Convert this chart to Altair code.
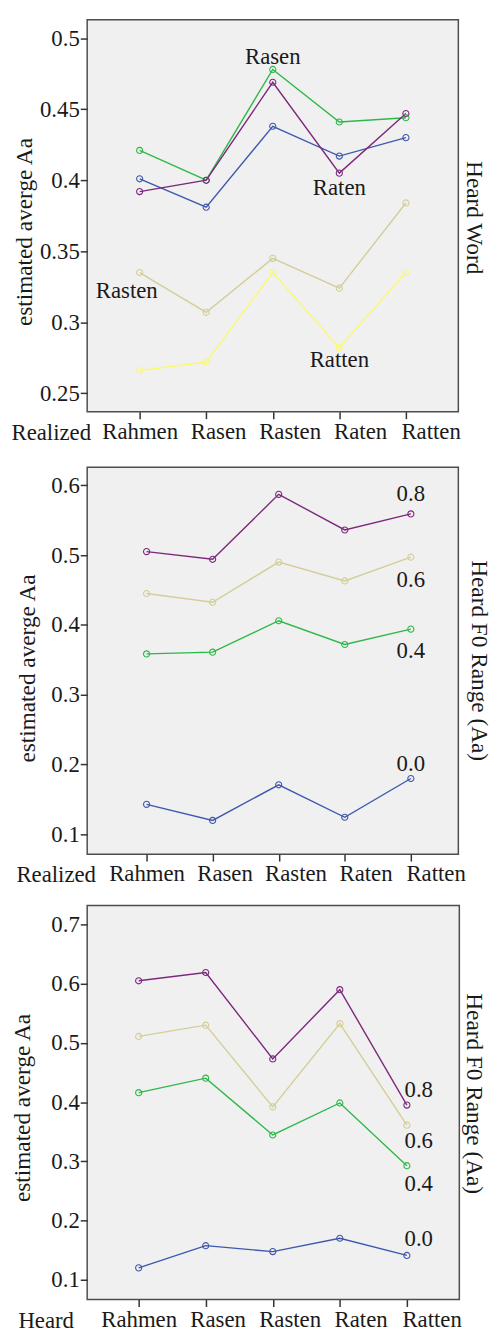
import altair as alt
import pandas as pd

# ---------------- data ----------------
categories = ["Rahmen", "Rasen", "Rasten", "Raten", "Ratten"]

# Panel 1: series = heard word, x = realized word
p1_series = ["Rahmen", "Rasen", "Rasten", "Raten", "Ratten"]
p1_rahmen = [0.401, 0.381, 0.438, 0.417, 0.430]
p1_rasen = [0.421, 0.400, 0.478, 0.441, 0.444]
p1_rasten = [0.335, 0.307, 0.345, 0.324, 0.384]
p1_raten = [0.392, 0.400, 0.469, 0.405, 0.447]
p1_ratten = [0.266, 0.272, 0.335, 0.282, 0.335]
p1_ticks = [0.25, 0.3, 0.35, 0.4, 0.45, 0.5]
p1_label_text = ["Rasen", "Raten", "Ratten"]
p1_label_cat = ["Rasten", "Raten", "Raten"]
p1_label_val = [0.487, 0.3947, 0.2737]
p1_label2_text = ["Rasten"]
p1_label2_cat = ["Rahmen"]
p1_label2_val = [0.322]

# Panel 2: series = heard F0 range, x = realized word
f0_series = ["0.0", "0.4", "0.6", "0.8"]
p2_00 = [0.143, 0.120, 0.171, 0.1245, 0.180]
p2_04 = [0.3585, 0.361, 0.406, 0.372, 0.394]
p2_06 = [0.445, 0.4325, 0.490, 0.463, 0.497]
p2_08 = [0.505, 0.494, 0.587, 0.536, 0.559]
p2_ticks = [0.1, 0.2, 0.3, 0.4, 0.5, 0.6]
p2_label_val = [0.2014, 0.362, 0.4646, 0.587]

# Panel 3: series = heard F0 range, x = heard word
p3_00 = [0.120, 0.1575, 0.1475, 0.170, 0.141]
p3_04 = [0.416, 0.4405, 0.3445, 0.3986, 0.2926]
p3_06 = [0.511, 0.530, 0.392, 0.5326, 0.361]
p3_08 = [0.605, 0.619, 0.473, 0.590, 0.395]
p3_ticks = [0.1, 0.2, 0.3, 0.4, 0.5, 0.6, 0.7]
p3_label_val = [0.169, 0.261, 0.335, 0.421]

colors5 = ["#3E58AC", "#2EB848", "#D3CE97", "#7C287D", "#FBF873"]
colors4 = ["#3E58AC", "#2EB848", "#D3CE97", "#7C287D"]

FONT = "Liberation Serif"
FS = 23
TFS = 23.5
TXT = "#1a1a1a"

# horizontal drift of each category label
label_shift = [0, 12, 17, 21, 25]


def long_df(series_names, series_values):
    rows = []
    for name, vals in zip(series_names, series_values):
        for c, v in zip(categories, vals):
            rows.append({"cat": c, "value": v, "series": name})
    return pd.DataFrame(rows)


label_offset = {
    "condition": [
        {"test": f"datum.value === '{c}'", "value": s}
        for c, s in zip(categories, label_shift)
    ],
    "value": 0,
}


def panel(df, series_names, colors, domain, ticks, fmt, xrange, ytitle_x, ytitle_y,
          xtitle, xtitle_x, width, height, labels, right_title, rt_offset, rt_dx):
    xenc = alt.X(
        "cat:N", sort=categories,
        scale=alt.Scale(type="point", range=xrange, padding=0),
        axis=alt.Axis(title=xtitle, titleX=xtitle_x, titleY=28, titleAlign="left",
                      titleBaseline="alphabetic", titleAngle=0, labelAngle=0,
                      tickSize=7, labelPadding=2, labelOverlap=False,
                      labelOffset=label_offset),
    )
    yenc = alt.Y(
        "value:Q",
        scale=alt.Scale(domain=domain, nice=False, zero=False),
        axis=alt.Axis(values=ticks, format=fmt, tickSize=7, labelPadding=1,
                      title="estimated averge Aa", titleX=ytitle_x, titleY=ytitle_y,
                      titleAngle=270, titleBaseline="bottom", titleAlign="center",
                      titleFontSize=TFS),
    )
    cenc = alt.Color("series:N", scale=alt.Scale(domain=series_names, range=colors),
                     legend=None)
    base = alt.Chart(df).encode(x=xenc, y=yenc, color=cenc)
    lines = base.mark_line(strokeWidth=1.4)
    pts = base.mark_point(filled=False, size=38, strokeWidth=1.1, opacity=1)
    layers = [lines, pts]
    for (ldf, dx) in labels:
        layers.append(
            alt.Chart(ldf).mark_text(font=FONT, fontSize=FS, color=TXT, dx=dx,
                                     baseline="middle", align="center")
            .encode(x=xenc, y=yenc, text="text:N")
        )
    return alt.layer(*layers).properties(
        width=width, height=height,
        title=alt.TitleParams(right_title, orient="right", anchor="middle",
                              font=FONT, fontSize=TFS, fontWeight="normal",
                              color=TXT, offset=rt_offset, dx=rt_dx),
    )


df1 = long_df(p1_series, [p1_rahmen, p1_rasen, p1_rasten, p1_raten, p1_ratten])
lab1a = pd.DataFrame({"text": p1_label_text, "cat": p1_label_cat, "value": p1_label_val})
lab1b = pd.DataFrame({"text": p1_label2_text, "cat": p1_label2_cat, "value": p1_label2_val})

df2 = long_df(f0_series, [p2_00, p2_04, p2_06, p2_08])
lab2 = pd.DataFrame({"text": f0_series, "cat": ["Ratten"] * 4, "value": p2_label_val})

df3 = long_df(f0_series, [p3_00, p3_04, p3_06, p3_08])
lab3 = pd.DataFrame({"text": f0_series, "cat": ["Ratten"] * 4, "value": p3_label_val})

c1 = panel(df1, p1_series, colors5, [0.237, 0.513], p1_ticks, "~g", [53, 322],
           -51, 214, "Realized", -77, 375, 396, [(lab1a, 0), (lab1b, -13)],
           "Heard Word", 2, 2)
c2 = panel(df2, f0_series, colors4, [0.0717, 0.626], p2_ticks, ".1f", [60, 327],
           -48, 203, "Realized", -72, 375, 391, [(lab2, 0)],
           "Heard F0 Range (Aa)", 2, 0)
c3 = panel(df3, f0_series, colors4, [0.0665, 0.732], p3_ticks, ".1f", [52, 323],
           -53, 204, "Heard", -70, 376, 398, [(lab3, 12)],
           "Heard F0 Range (Aa)", 1, -9)

top = alt.concat(c1, c2, columns=1, spacing=21)
chart = (
    alt.concat(top, c3, columns=1, spacing=17)
    .properties(padding={"left": 2, "top": 4, "right": 0, "bottom": 0},
                background="white")
    .configure_view(stroke="#4d4d4d", strokeWidth=1.5, fill="#f0f0f0")
    .configure_axis(domain=False, grid=False, tickColor="#333333", tickWidth=1.5,
                    labelFont=FONT, labelFontSize=FS, labelColor=TXT,
                    titleFont=FONT, titleFontSize=FS, titleFontWeight="normal",
                    titleColor=TXT)
)

chart.save("out.html", embed_options={"renderer": "svg", "actions": False})
